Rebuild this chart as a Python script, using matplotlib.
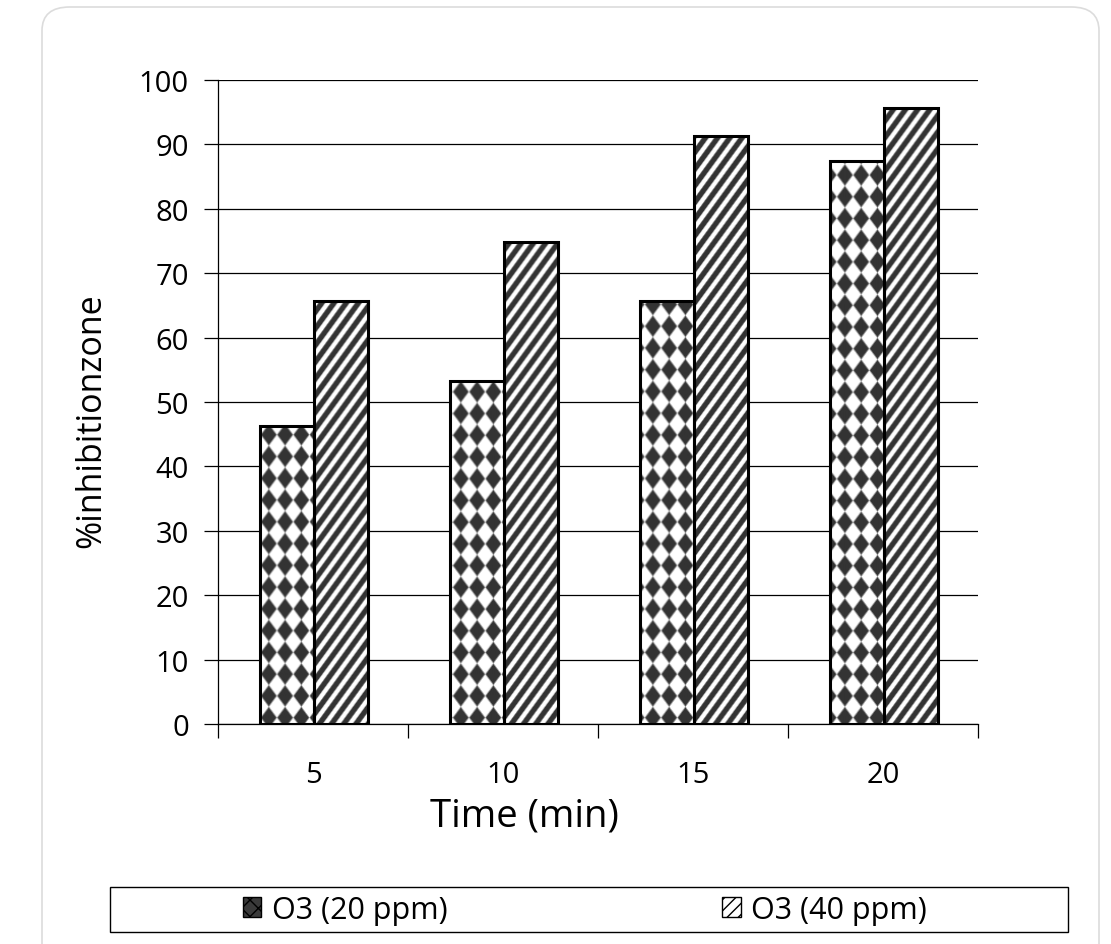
import numpy as np
import matplotlib
matplotlib.use("Agg")
import matplotlib.pyplot as plt
from matplotlib.patches import Patch, Rectangle, FancyBboxPatch

plt.rcParams['font.family'] = ['Open Sans', 'DejaVu Sans']

# data
times = ['5', '10', '15', '20']
o3_20ppm = [46.3, 53.2, 65.7, 87.4]
o3_40ppm = [65.7, 74.9, 91.3, 95.7]
series_names = ['O3 (20 ppm)', 'O3 (40 ppm)']
y_ticks = [0, 10, 20, 30, 40, 50, 60, 70, 80, 90, 100]

W_PX, H_PX = 760, 644  # axes size in pixels


def diamond_pattern():
    # dark diamonds on white, in a square grid
    xx, yy = np.meshgrid(np.arange(W_PX), np.arange(H_PX))
    px, py = 16.0, 21.7
    dx = ((xx + 6) % px) - px / 2
    dy = ((yy + 3) % py) - py / 2
    d = np.abs(dx) / 8.2 + np.abs(dy) / 11.2
    val = np.clip((d - 0.82) / 0.25, 0, 1)
    return 0.2 + 0.8 * val


def stripe_pattern():
    # '/' stripes
    xx, yy = np.meshgrid(np.arange(W_PX), np.arange(H_PX))
    period = 12.0
    s = (xx + 0.72 * yy) % period
    dist = np.abs(s - period / 2)
    val = np.clip((dist - 2.0) / 1.4, 0, 1)
    return 1.0 - 0.8 * val


fig = plt.figure(figsize=(11.11, 9.45), dpi=100)

# light rounded frame around the whole picture
frame = FancyBboxPatch((42 / 1111, -0.05), (1099 - 42) / 1111, (945 - 8) / 945 + 0.05,
                       boxstyle="round,pad=0,rounding_size=0.025", transform=fig.transFigure,
                       facecolor='white', edgecolor='#dcdcdc', lw=1.2, zorder=-10)
fig.patches.append(frame)

ax = fig.add_axes([218 / 1111, 220 / 945, 760 / 1111, 644 / 945])
ax.set_facecolor('none')

x = np.arange(len(times))
width = 0.285
bars1 = ax.bar(x - width / 2 + 0.005, o3_20ppm, width, facecolor='none', edgecolor='black', lw=2.2, zorder=3)
bars2 = ax.bar(x + width / 2 + 0.005, o3_40ppm, width, facecolor='none', edgecolor='black', lw=2.2, zorder=3)

ext = (-0.5, len(times) - 0.5, 0, 100)
pat1 = diamond_pattern()
pat2 = stripe_pattern()
for b in bars1:
    im = ax.imshow(pat1, cmap='gray', vmin=0, vmax=1, extent=ext, aspect='auto',
                   interpolation='bilinear', zorder=2)
    im.set_clip_path(b)
for b in bars2:
    im = ax.imshow(pat2, cmap='gray', vmin=0, vmax=1, extent=ext, aspect='auto',
                   interpolation='bilinear', zorder=2)
    im.set_clip_path(b)

ax.set_xlim(-0.5, len(times) - 0.5)
ax.set_ylim(0, 100)

ax.set_yticks(y_ticks)
ax.yaxis.grid(True, color='black', lw=0.9)
ax.set_axisbelow(True)
ax.tick_params(axis='y', length=10, width=0.9, pad=11, labelsize=21)

ax.set_xticks(np.arange(len(times) + 1) - 0.5)
ax.set_xticklabels([])
ax.set_xticks(x, minor=True)
ax.set_xticklabels(times, minor=True)
ax.tick_params(axis='x', which='major', length=10, width=0.9)
ax.tick_params(axis='x', which='minor', length=0, pad=26, labelsize=21)

for side in ['top', 'right']:
    ax.spines[side].set_visible(False)
ax.spines['left'].set_linewidth(0.9)
ax.spines['bottom'].set_linewidth(0.9)

fig.text(524 / 1111, 1 - 817 / 945, 'Time (min)', ha='center', va='center', fontsize=27.5)
fig.text(91 / 1111, 1 - 421 / 945, '%inhibitionzone', ha='center', va='center',
         rotation=90, fontsize=24.5)

# legend box
box = Rectangle((110 / 1111, 1 - 933 / 945), (1068 - 110) / 1111, 45 / 945,
                transform=fig.transFigure, facecolor='white', edgecolor='black', lw=1.0)
fig.patches.append(box)
handles = [Patch(facecolor='#3a3a3a', edgecolor='black', hatch='xx'),
           Patch(facecolor='white', edgecolor='black', hatch='///')]
fig.legend(handles, series_names, ncol=2, loc='center left',
           bbox_to_anchor=(215 / 1111, 1 - 911 / 945), frameon=False, fontsize=22,
           handlelength=0.62, handleheight=0.62, handletextpad=0.33, columnspacing=9.0)

fig.savefig('out.png', dpi=100)
